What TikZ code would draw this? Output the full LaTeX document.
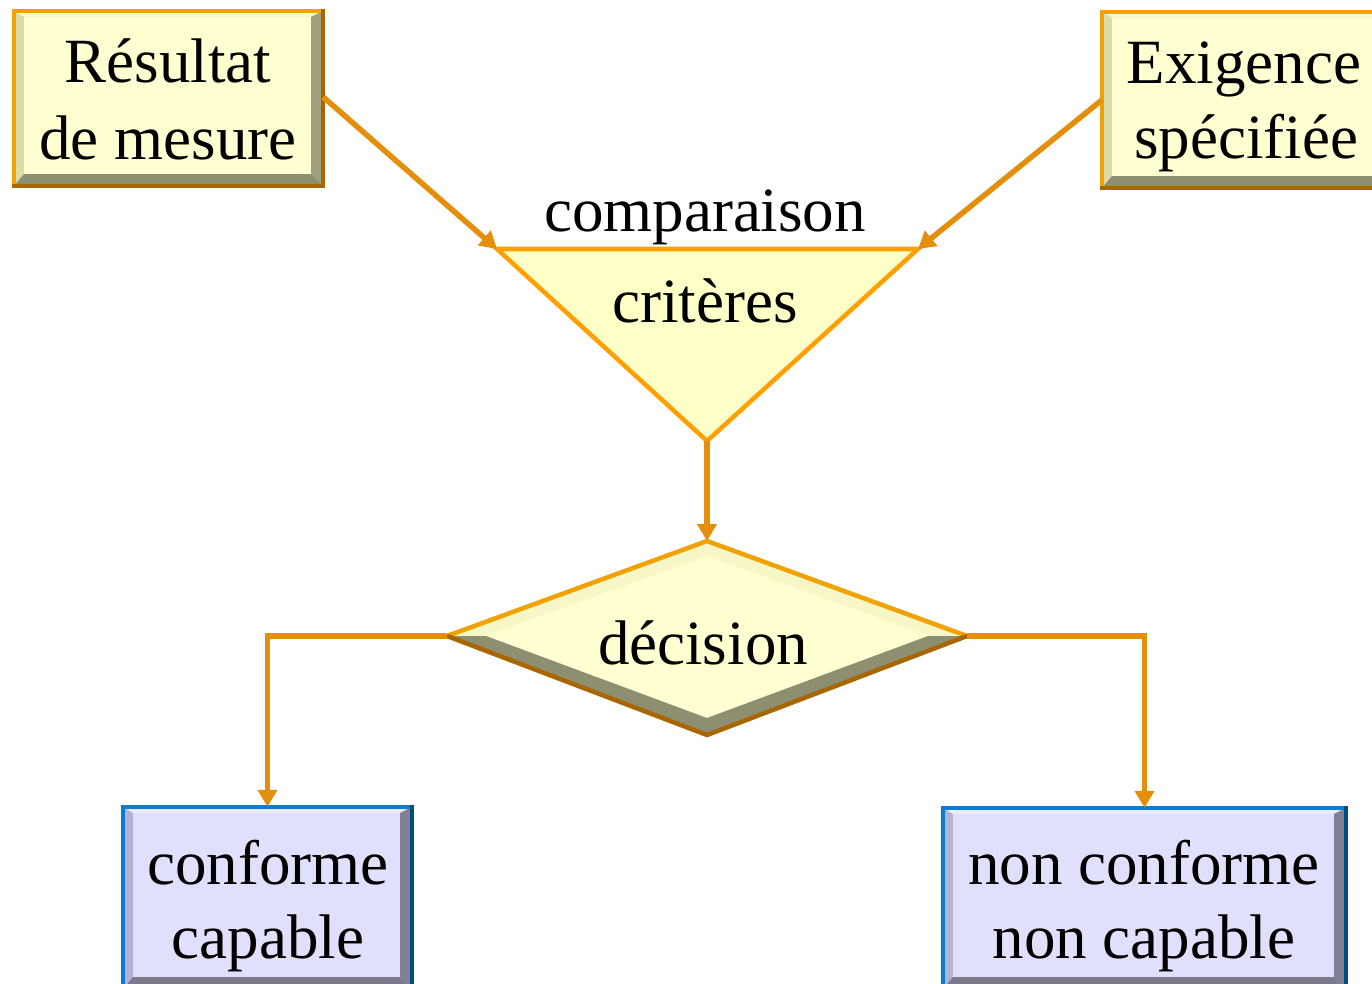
\documentclass[tikz,border=0pt]{standalone}
\usepackage{fontspec}
\setmainfont{Liberation Serif}
\usetikzlibrary{arrows.meta,calc}

\definecolor{yface}{HTML}{FFFFD2}
\definecolor{ybevL}{HTML}{DCDCAA}
\definecolor{ybevT}{HTML}{F6F6C6}
\definecolor{ybevR}{HTML}{A0A080}
\definecolor{ybevB}{HTML}{8E8E70}
\definecolor{orlight}{HTML}{F2A200}
\definecolor{ordark}{HTML}{A86600}
\definecolor{bface}{HTML}{E0E0FC}
\definecolor{bbevL}{HTML}{B2B2D2}
\definecolor{bbevT}{HTML}{EAEAFF}
\definecolor{bbevR}{HTML}{808094}
\definecolor{bbevB}{HTML}{7A7A8C}
\definecolor{bllight}{HTML}{0A7CD2}
\definecolor{bldark}{HTML}{004E80}
\definecolor{trifill}{HTML}{FFFFC8}
\definecolor{tristroke}{HTML}{FFA000}
\definecolor{connc}{HTML}{E38F0B}

% bevelled panel drawn over a named rectangle node
% #1 node, #2 left, #3 top, #4 right, #5 bottom bevel colours, #6 light rim, #7 dark rim
\newcommand\bevelpanel[7]{%
  \coordinate (pNW) at (#1.north west);
  \coordinate (pNE) at (#1.north east);
  \coordinate (pSE) at (#1.south east);
  \coordinate (pSW) at (#1.south west);
  \coordinate (qNW) at ($(pNW)+(10,-6)$);
  \coordinate (qNE) at ($(pNE)+(-12,-6)$);
  \coordinate (qSE) at ($(pSE)+(-12,12)$);
  \coordinate (qSW) at ($(pSW)+(10,12)$);
  \fill[#2] (pNW) -- (pSW) -- (qSW) -- (qNW) -- cycle;
  \fill[#3] (pNW) -- (pNE) -- (qNE) -- (qNW) -- cycle;
  \fill[#4] (pNE) -- (pSE) -- (qSE) -- (qNE) -- cycle;
  \fill[#5] (pSW) -- (pSE) -- (qSE) -- (qSW) -- cycle;
  \draw[#6, line width=4.5pt, line cap=rect] (pSW) -- (pNW) -- (pNE);
  \draw[#7, line width=4.5pt, line cap=rect] (pNE) -- (pSE) -- (pSW);
}

\tikzset{
  panel/.style={rectangle, inner sep=0, draw=none},
  ypanel/.style={panel, fill=yface},
  bpanel/.style={panel, fill=bface},
  txt/.style={inner sep=0, anchor=base, font=\fontsize{63}{76}\selectfont},
  conn/.style={draw=connc, line width=5.5pt, -{Triangle[length=17pt,width=19pt]}},
}

\begin{document}
\begin{tikzpicture}[x=1pt,y=1pt]
\useasboundingbox (0,0) rectangle (1372,-984);

% input panels
\node[ypanel, minimum width=309pt, minimum height=175pt] (res) at (168.5,-98.5) {};
\bevelpanel{res}{ybevL}{ybevT}{ybevR}{ybevB}{orlight}{ordark}
\node[txt] (resA) at (168,-83) {Résultat};
\node[txt] (resB) at (168,-160) {de mesure};

\node[ypanel, minimum width=288pt, minimum height=176pt] (exi) at (1246,-100) {};
\bevelpanel{exi}{ybevL}{ybevT}{ybevR}{ybevB}{orlight}{ordark}
\node[txt] (exiA) at (1244,-84) {Exigence};
\node[txt] (exiB) at (1246,-159) {spécifiée};

% comparison triangle
\coordinate (tl) at (497,-249);
\coordinate (tr) at (918,-249);
\coordinate (ap) at (707,-441);
\fill[trifill] (tl) -- (tr) -- (ap) -- cycle;
\draw[tristroke, line width=4.5pt, line join=miter] (tl) -- (tr) -- (ap) -- cycle;
\node[txt] (cmp) at (705,-232) {comparaison};
\node[txt] (crit) at (705,-322) {critères};

% decision diamond
\coordinate (dt) at (707,-541);
\coordinate (dl) at (447,-636);
\coordinate (dr) at (967,-636);
\coordinate (db) at (707,-735);
\fill[yface] (dt) -- (dr) -- (db) -- (dl) -- cycle;
\fill[ybevT] (dt) -- (dr) -- (930,-636) -- (707,-556) -- (484,-636) -- (dl) -- cycle;
\fill[ybevB] (dl) -- (db) -- (dr) -- (928,-636) -- (707,-718) -- (486,-636) -- cycle;
\draw[orlight, line width=4.5pt, line join=miter] (dl) -- (dt) -- (dr);
\draw[ordark, line width=4.5pt, line join=miter] (dl) -- (db) -- (dr);
\node[txt] (dec) at (703,-664) {décision};

% outcome panels
\node[bpanel, minimum width=289pt, minimum height=182pt] (conf) at (267.5,-898) {};
\bevelpanel{conf}{bbevL}{bbevT}{bbevR}{bbevB}{bllight}{bldark}
\node[txt] (confA) at (268,-884) {conforme};
\node[txt] (confB) at (268,-958) {capable};

\node[bpanel, minimum width=403pt, minimum height=181pt] (ncf) at (1144.5,-898.5) {};
\bevelpanel{ncf}{bbevL}{bbevT}{bbevR}{bbevB}{bllight}{bldark}
\node[txt] (ncfA) at (1144,-884) {non conforme};
\node[txt] (ncfB) at (1144,-958) {non capable};

% connectors
\draw[conn] (res.east |- 0,-97) -- (tl);
\draw[conn] (exi.west) -- (tr);
\draw[conn] (ap) -- (dt);
\draw[conn] (dl) -| (conf.north);
\draw[conn] (dr) -| (ncf.north);
\end{tikzpicture}
\end{document}
